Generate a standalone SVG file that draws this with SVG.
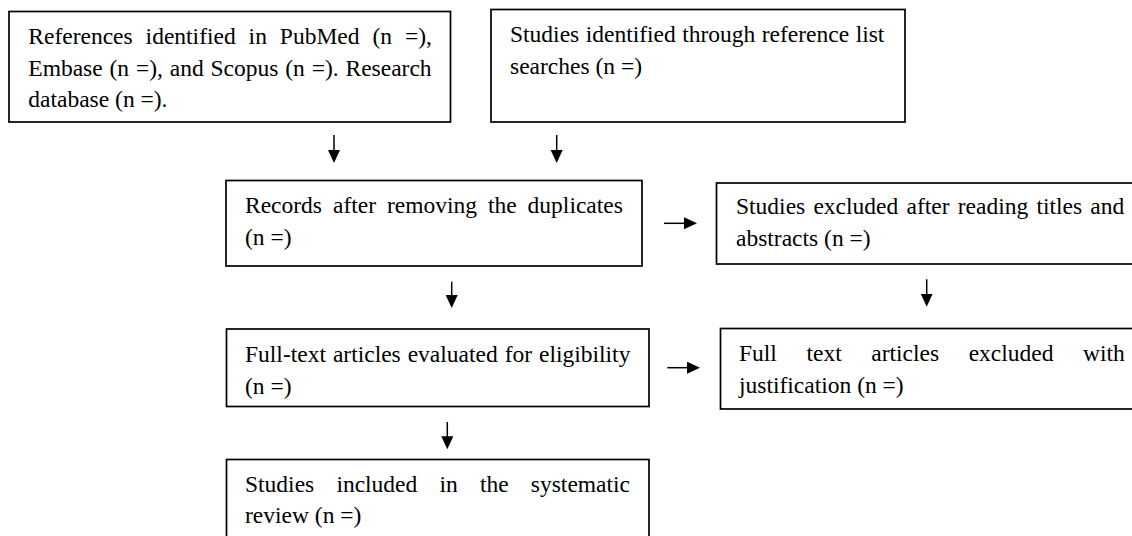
<svg xmlns="http://www.w3.org/2000/svg" width="1132" height="536" viewBox="0 0 1132 536">
<style>
.box{fill:#fff;stroke:#000;stroke-width:1.7}
.t{font-family:"Liberation Serif","Times New Roman",serif;font-size:23.5px;fill:#000}
.c{stroke:#000;stroke-width:1.5;fill:none;marker-end:url(#ah)}
</style>
<defs>
<marker id="ah" viewBox="0 0 13 12" refX="1" refY="6" markerWidth="13" markerHeight="12" markerUnits="userSpaceOnUse" orient="auto">
<path d="M0,0 L13,6 L0,12 z" fill="#000"/>
</marker>
</defs>
<rect width="1132" height="536" fill="#fff"/>
<g id="n1">
<rect class="box" x="9" y="11.5" width="441.5" height="110.5"/>
<text class="t"><tspan x="28.3" y="43.5" word-spacing="7.07">References identified in PubMed (n =),</tspan><tspan x="28.3" y="75.5" word-spacing="0.97">Embase (n =), and Scopus (n =). Research</tspan><tspan x="28.3" y="107">database (n =).</tspan></text>
</g>
<g id="n2">
<rect class="box" x="491" y="9.5" width="414" height="112.5"/>
<text class="t"><tspan x="510" y="41.7" word-spacing="0.6">Studies identified through reference list</tspan><tspan x="510" y="73.5">searches (n =)</tspan></text>
</g>
<g id="n3">
<rect class="box" x="226" y="180.5" width="416" height="85.5"/>
<text class="t"><tspan x="245" y="212.5" word-spacing="5.07">Records after removing the duplicates</tspan><tspan x="245" y="245">(n =)</tspan></text>
</g>
<g id="n4">
<rect class="box" x="716.5" y="183" width="430" height="81"/>
<text class="t"><tspan x="736" y="213.5" word-spacing="2.35">Studies excluded after reading titles and</tspan><tspan x="736" y="246">abstracts (n =)</tspan></text>
</g>
<g id="n5">
<rect class="box" x="226.5" y="329" width="422.5" height="77.5"/>
<text class="t"><tspan x="245" y="361.5" word-spacing="1.07">Full-text articles evaluated for eligibility</tspan><tspan x="245" y="394">(n =)</tspan></text>
</g>
<g id="n6">
<rect class="box" x="720.5" y="328.5" width="430" height="80.5"/>
<text class="t"><tspan x="739" y="360.5" word-spacing="23.7">Full text articles excluded with</tspan><tspan x="739" y="393">justification (n =)</tspan></text>
</g>
<g id="n7">
<rect class="box" x="226.5" y="459.5" width="422.5" height="90"/>
<text class="t"><tspan x="245" y="491.5" word-spacing="16.3">Studies included in the systematic</tspan><tspan x="245" y="523">review (n =)</tspan></text>
</g>
<g id="connectors">
<line class="c" x1="334" y1="135" x2="334" y2="151"/>
<line class="c" x1="556.7" y1="135" x2="556.7" y2="151"/>
<line class="c" x1="664" y1="223.3" x2="685" y2="223.3"/>
<line class="c" x1="451.7" y1="281.7" x2="451.7" y2="296"/>
<line class="c" x1="926.7" y1="279.3" x2="926.7" y2="294.7"/>
<line class="c" x1="667.3" y1="367.7" x2="688" y2="367.7"/>
<line class="c" x1="447.3" y1="422" x2="447.3" y2="437.3"/>
</g>
</svg>
